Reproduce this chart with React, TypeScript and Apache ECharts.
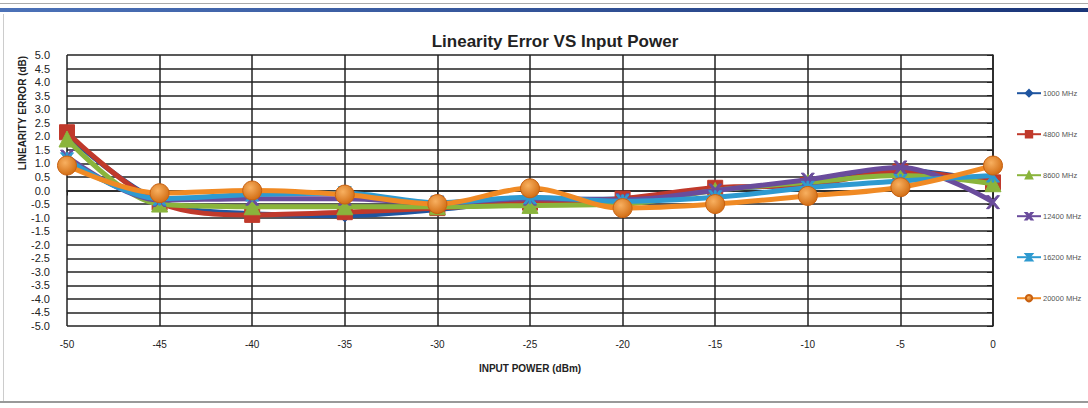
import React, { useEffect, useRef } from "react";
import * as echarts from "echarts";

const xValues = [-50, -45, -40, -35, -30, -25, -20, -15, -10, -5, 0];
const seriesNames = ["1000 MHz", "4800 MHz", "8600 MHz", "12400 MHz", "16200 MHz", "20000 MHz"];
const s1000 = [2.05, -0.4, -0.85, -0.92, -0.7, -0.35, -0.3, 0.05, 0.25, 0.75, 0.3];
const s4800 = [2.15, -0.45, -0.9, -0.8, -0.65, -0.45, -0.3, 0.1, 0.2, 0.7, 0.3];
const s8600 = [1.9, -0.5, -0.6, -0.6, -0.6, -0.55, -0.5, 0.0, 0.3, 0.55, 0.25];
const s12400 = [1.25, -0.35, -0.3, -0.3, -0.45, -0.3, -0.35, 0.0, 0.4, 0.85, -0.43];
const s16200 = [1.15, -0.3, -0.15, -0.1, -0.45, -0.25, -0.4, -0.25, 0.1, 0.35, 0.55];
const s20000 = [0.92, -0.1, 0.0, -0.15, -0.5, 0.08, -0.65, -0.5, -0.2, 0.12, 0.92];
const yTicks = [-5, 5, 0.5];
const xTicks = [-50, 0, 5];

const colors = ["#1F55A0", "#C0392B", "#8AB43C", "#6A4C9C", "#2E9AD0", "#F08A24"];
const symbols = [
  "diamond",
  "rect",
  "triangle",
  "path://M0,0 L2,0 L5,3.5 L8,0 L10,0 L6,5 L10,10 L8,10 L5,6.5 L2,10 L0,10 L4,5 Z",
  "path://M0,0 L2,0 L4.3,3.5 L4.3,0 L5.7,0 L5.7,3.5 L8,0 L10,0 L6,5 L10,10 L8,10 L5.7,6.5 L5.7,10 L4.3,10 L4.3,6.5 L2,10 L0,10 L4,5 Z",
  "circle",
];
const symbolSizes = [13, 15, 16, 13, 13, 19];
const allData = [s1000, s4800, s8600, s12400, s16200, s20000];

export default function App() {
  const ref = useRef<HTMLDivElement>(null);
  useEffect(() => {
    if (!ref.current) return;
    const chart = echarts.init(ref.current, null, { renderer: "svg" });
    const font = "'Liberation Sans Narrow', 'Liberation Sans', Arial, sans-serif";
    const series = seriesNames.map((name, i) => ({
      name,
      type: "line",
      smooth: 0.35,
      data: xValues.map((x, j) => [x, allData[i][j]]),
      symbol: symbols[i],
      symbolSize: symbolSizes[i],
      lineStyle: { width: 5, color: colors[i] },
      itemStyle:
        i === 5
          ? {
              color: new echarts.graphic.RadialGradient(0.4, 0.35, 0.7, [
                { offset: 0, color: "#F8B060" },
                { offset: 1, color: "#D06A10" },
              ]),
              borderColor: "#C86010",
              borderWidth: 1,
            }
          : { color: colors[i], borderColor: colors[i], borderWidth: 1 },
      z: 2 + i,
    }));
    chart.setOption({
      animation: false,
      backgroundColor: "#ffffff",
      textStyle: { fontFamily: font },
      title: {
        text: "Linearity Error VS Input Power",
        left: 550,
        top: 28,
        textAlign: "center",
        textStyle: { fontSize: 17, fontWeight: "bold", color: "#222", fontFamily: font },
      },
      grid: { left: 67, right: 95, top: 55, bottom: 82, containLabel: false },
      legend: {
        orient: "vertical",
        left: 1011,
        top: 84,
        itemGap: 32.6,
        itemWidth: 24,
        itemHeight: 8,
        textStyle: { fontSize: 7.5, color: "#555", fontFamily: font, padding: [0, 0, 0, -3] },
        data: seriesNames,
      },
      xAxis: {
        type: "value",
        min: xTicks[0],
        max: xTicks[1],
        interval: xTicks[2],
        name: "INPUT POWER (dBm)",
        nameLocation: "middle",
        nameGap: 37,
        nameTextStyle: { fontSize: 10, fontWeight: "bold", color: "#222", fontFamily: font },
        axisLine: { lineStyle: { color: "#222", width: 1.5 } },
        axisTick: { show: true, length: 5, lineStyle: { color: "#222" } },
        axisLabel: { fontSize: 10, color: "#222", margin: 13 },
        splitLine: { show: true, lineStyle: { color: "#222", width: 1.5 } },
      },
      yAxis: {
        type: "value",
        min: yTicks[0],
        max: yTicks[1],
        interval: yTicks[2],
        axisLine: { show: true, lineStyle: { color: "#222", width: 1.5 } },
        axisTick: { show: true, length: 6, lineStyle: { color: "#222" } },
        axisLabel: {
          fontSize: 11,
          color: "#222",
          margin: 17,
          formatter: (v: number) => v.toFixed(1),
        },
        splitLine: { show: true, lineStyle: { color: "#222", width: 1.5 } },
      },
      graphic: [
        {
          type: "rect",
          shape: { x: 0, y: 3, width: 1088, height: 1 },
          style: { fill: "#aaaaaa" },
          silent: true,
        },
        {
          type: "rect",
          shape: { x: 0, y: 8, width: 1088, height: 4 },
          style: {
            fill: new echarts.graphic.LinearGradient(0, 0, 1, 0, [
              { offset: 0, color: "#4C72B8" },
              { offset: 1, color: "#1A3578" },
            ]),
          },
          silent: true,
        },
        {
          type: "rect",
          shape: { x: 3, y: 14, width: 1, height: 388 },
          style: { fill: "#cccccc" },
          silent: true,
        },
        {
          type: "rect",
          shape: { x: 0, y: 401, width: 1088, height: 2 },
          style: { fill: "#999999" },
          silent: true,
        },
        {
          type: "text",
          x: 22,
          y: 113,
          rotation: Math.PI / 2,
          style: {
            text: "LINEARITY ERROR (dB)",
            fontSize: 10,
            fontWeight: "bold",
            fill: "#222",
            fontFamily: font,
            align: "center",
            verticalAlign: "middle",
          },
        },
      ],
      series,
    });
    return () => chart.dispose();
  }, []);
  return (
    <div
      ref={ref}
      style={{ position: "fixed", left: 0, top: 0, width: 1088, height: 408 }}
    />
  );
}
